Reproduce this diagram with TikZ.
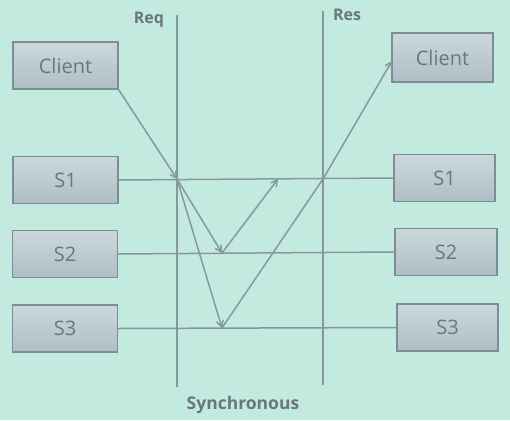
\documentclass[tikz,border=0pt]{standalone}
\usepackage{fontspec}
\setmainfont{Open Sans}
\usetikzlibrary{arrows.meta}
\definecolor{bg}{HTML}{C3EADF}
\definecolor{ln}{HTML}{8797A0}
\definecolor{boxtop}{HTML}{CBD8DB}
\definecolor{boxbot}{HTML}{AFBEC4}
\definecolor{boxedge}{HTML}{7E8D95}
\definecolor{txt}{HTML}{6B767C}
\tikzset{
  srvbox/.style={draw=boxedge, line width=1.3pt, top color=boxtop, bottom color=boxbot,
    minimum width=105pt, minimum height=47pt, inner sep=0pt, text=txt,
    font=\fontsize{20}{23}\selectfont},
  wire/.style={draw=ln, line width=1.5pt},
  msg/.style={wire, -{Straight Barb[length=6pt,width=7pt]}},
  lbl/.style={text=txt, font=\bfseries\fontsize{16}{18}\selectfont, inner sep=0pt}
}
\begin{document}
\begin{tikzpicture}[x=1pt,y=-1pt]
\fill[bg] (0,0) rectangle (510,420);
\useasboundingbox (0,0) rectangle (510,420);
% boxes
\node[srvbox] (lc) at (65.5,65.5) {Client};
\node[srvbox] (l1) at (65.5,180) {S1};
\node[srvbox] (l2) at (65,254) {S2};
\node[srvbox] (l3) at (65,328.5) {S3};
\node[srvbox, minimum width=101pt, minimum height=49pt] (rc) at (442.5,57.5) {Client};
\node[srvbox, minimum width=101pt] (r1) at (444.5,178) {S1};
\node[srvbox, minimum width=102pt] (r2) at (446,252) {S2};
\node[srvbox, minimum width=101pt] (r3) at (447.5,327.5) {S3};
% timelines
\coordinate (reqtop) at (177,15);
\coordinate (reqbot) at (177,387);
\coordinate (restop) at (323,11);
\coordinate (resbot) at (323,385);
\draw[wire] (reqtop) -- (reqbot);
\draw[wire] (restop) -- (resbot);
\draw[wire] (l1.east) -- (r1.west);
\draw[wire] (l2.east) -- (r2.west);
\draw[wire] (l3.east) -- (r3.west);
% labels
\node[lbl] (req) at (149,20) {Req};
\node[lbl] (res) at (347,15) {Res};
\node[lbl, font=\bfseries\fontsize{17.5}{20}\selectfont] (sync) at (243,405) {Synchronous};
% message points
\coordinate (a) at (177,179);
\coordinate (b) at (222,253);
\coordinate (c) at (278,179);
\coordinate (d) at (222,328);
\coordinate (e) at (323,179);
\coordinate (f) at (392,61);
\draw[msg] (lc.south east) -- (a);
\draw[msg] (a) -- (b);
\draw[msg] (b) -- (c);
\draw[msg] (a) -- (d);
\draw[wire] (d) -- (e);
\draw[msg] (e) -- (f);
\end{tikzpicture}
\end{document}
